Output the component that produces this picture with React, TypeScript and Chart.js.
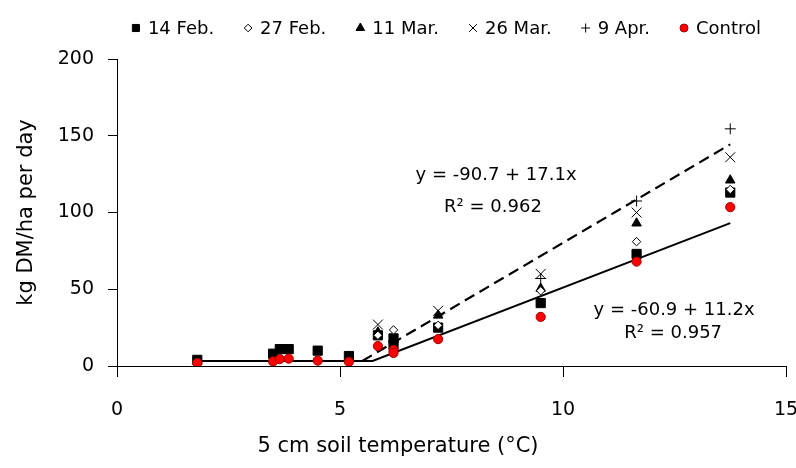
import React, { useEffect, useRef } from "react";
import { Chart, registerables } from "chart.js";

Chart.register(...registerables);

const FONT = "'DejaVu Sans', 'Liberation Sans', sans-serif";

// ---- data ----
const seriesLabels = ["14 Feb.", "27 Feb.", "11 Mar.", "26 Mar.", "9 Apr.", "Control"];

const feb14X = [1.8, 3.5, 3.65, 3.85, 4.5, 5.2, 5.85, 6.2, 6.2, 7.2, 9.5, 11.65, 13.75];
const feb14Y = [4, 8, 11, 11, 10, 6.5, 20, 18, 14, 25, 41, 73, 113];

const feb27X = [5.85, 6.2, 7.2, 9.5, 11.65, 13.75];
const feb27Y = [20, 23.5, 26.5, 49, 81, 115];

const mar11X = [5.85, 7.2, 9.5, 11.65, 13.75];
const mar11Y = [22, 33, 50.5, 93, 121];

const mar26X = [5.85, 7.2, 9.5, 11.65, 13.75];
const mar26Y = [27, 36, 60, 100, 136];

const apr9X = [9.5, 11.65, 13.75];
const apr9Y = [57, 107.5, 154.5];

const controlX = [1.8, 3.5, 3.65, 3.85, 4.5, 5.2, 5.85, 6.2, 6.2, 7.2, 9.5, 11.65, 13.75];
const controlY = [2, 3, 4.5, 4.8, 3.5, 2.7, 13, 10.5, 8.5, 17.5, 32, 68, 103.5];

// trend lines (end points)
const fitAllX = [5.5, 13.75];
const fitAllY = [3.3, 144.4];
const fitControlX = [1.8, 5.73, 13.75];
const fitControlY = [3.3, 3.3, 93.1];

// equation labels
const eqAllText = ["y = -90.7 + 17.1x", "R² = 0.962"];
const eqAllPos = [
  [8.5, 124.4],
  [8.43, 103.6],
];
const eqControlText = ["y = -60.9 + 11.2x", "R² = 0.957"];
const eqControlPos = [
  [12.49, 36.5],
  [12.47, 21.5],
];

const xAxisTitle = "5 cm soil temperature (°C)";
const yAxisTitle = "kg DM/ha per day";

const xMin = 0, xMax = 15, xStep = 5;
const yMin = 0, yMax = 200, yStep = 50;

const seriesX = [feb14X, feb27X, mar11X, mar26X, apr9X, controlX];
const seriesY = [feb14Y, feb27Y, mar11Y, mar26Y, apr9Y, controlY];

// ---- styles ----
const markerStyles = [
  { pointStyle: "rect", radius: 6.5, legendRadius: 5, bg: "#000", border: "#000", bw: 1, order: 3 },
  { pointStyle: "rectRot", radius: 4.2, legendRadius: 3.8, bg: "#fff", border: "#000", bw: 1, order: 1 },
  { pointStyle: "triangle", radius: 5.5, legendRadius: 5, bg: "#000", border: "#000", bw: 1, order: 2 },
  { pointStyle: "crossRot", radius: 7, legendRadius: 5.5, bg: "#000", border: "#000", bw: 1, order: 4 },
  { pointStyle: "cross", radius: 5.5, legendRadius: 4.5, bg: "#000", border: "#000", bw: 1, order: 5 },
  { pointStyle: "circle", radius: 4.6, legendRadius: 4, bg: "#ff0000", border: "#a00000", bw: 1, order: 0 },
];

function drawMarker(ctx: CanvasRenderingContext2D, st: any, x: number, y: number, r: number) {
  ctx.save();
  ctx.fillStyle = st.bg;
  ctx.strokeStyle = st.border;
  ctx.lineWidth = st.bw;
  ctx.beginPath();
  switch (st.pointStyle) {
    case "rect": {
      const s = r * Math.SQRT1_2;
      ctx.rect(x - s, y - s, 2 * s, 2 * s);
      ctx.fill();
      ctx.stroke();
      break;
    }
    case "rectRot": {
      ctx.moveTo(x - r, y);
      ctx.lineTo(x, y - r);
      ctx.lineTo(x + r, y);
      ctx.lineTo(x, y + r);
      ctx.closePath();
      ctx.fill();
      ctx.stroke();
      break;
    }
    case "triangle": {
      for (let i = 0; i < 3; i++) {
        const a = -Math.PI / 2 + (i * 2 * Math.PI) / 3;
        const px = x + Math.cos(a) * r;
        const py = y + Math.sin(a) * r;
        if (i === 0) ctx.moveTo(px, py);
        else ctx.lineTo(px, py);
      }
      ctx.closePath();
      ctx.fill();
      ctx.stroke();
      break;
    }
    case "crossRot": {
      const d = r * Math.SQRT1_2;
      ctx.moveTo(x - d, y - d);
      ctx.lineTo(x + d, y + d);
      ctx.moveTo(x - d, y + d);
      ctx.lineTo(x + d, y - d);
      ctx.stroke();
      break;
    }
    case "cross": {
      ctx.moveTo(x - r, y);
      ctx.lineTo(x + r, y);
      ctx.moveTo(x, y - r);
      ctx.lineTo(x, y + r);
      ctx.stroke();
      break;
    }
    default: {
      ctx.arc(x, y, r, 0, Math.PI * 2);
      ctx.fill();
      ctx.stroke();
    }
  }
  ctx.restore();
}

const decorPlugin = {
  id: "decor",
  afterDraw(chart: any) {
    const ctx: CanvasRenderingContext2D = chart.ctx;
    const { chartArea, scales } = chart;
    ctx.save();
    ctx.fillStyle = "#000";

    // legend
    ctx.font = `18px ${FONT}`;
    ctx.textBaseline = "middle";
    ctx.textAlign = "left";
    const markerBox = 10;
    const toText = 7;
    const itemGap = 29;
    const widths = seriesLabels.map((t) => ctx.measureText(t).width);
    const total =
      widths.reduce((a, w) => a + markerBox + toText + w, 0) + itemGap * (seriesLabels.length - 1);
    const cx = 446;
    let x = cx - total / 2;
    const ly = 28;
    seriesLabels.forEach((t, i) => {
      drawMarker(ctx, markerStyles[i], x + markerBox / 2, ly, markerStyles[i].legendRadius);
      ctx.fillStyle = "#000";
      ctx.fillText(t, x + markerBox + toText, ly + 1);
      x += markerBox + toText + widths[i] + itemGap;
    });

    // axis titles
    ctx.font = `21px ${FONT}`;
    ctx.textAlign = "center";
    ctx.textBaseline = "middle";
    ctx.fillText(xAxisTitle, 398, 447);
    ctx.save();
    ctx.translate(27, (chartArea.top + chartArea.bottom) / 2);
    ctx.rotate(-Math.PI / 2);
    ctx.fillText(yAxisTitle, 0, 0);
    ctx.restore();

    // equations
    ctx.font = `18px ${FONT}`;
    const put = (texts: string[], pos: number[][]) => {
      texts.forEach((t, i) => {
        ctx.fillText(t, scales.x.getPixelForValue(pos[i][0]), scales.y.getPixelForValue(pos[i][1]));
      });
    };
    put(eqAllText, eqAllPos);
    put(eqControlText, eqControlPos);
    ctx.restore();
  },
};

export default function App() {
  const ref = useRef<HTMLCanvasElement>(null);
  useEffect(() => {
    const canvas = ref.current!;
    const pts = (xs: number[], ys: number[]) => xs.map((x, i) => ({ x, y: ys[i] }));

    const scatterSets = seriesLabels.map((label, i) => {
      const st = markerStyles[i];
      return {
        type: "scatter" as const,
        label,
        data: pts(seriesX[i], seriesY[i]),
        pointStyle: st.pointStyle,
        pointRadius: st.radius,
        pointBackgroundColor: st.bg,
        pointBorderColor: st.border,
        pointBorderWidth: st.bw,
        backgroundColor: st.bg,
        borderColor: st.border,
        showLine: false,
        order: st.order,
      };
    });

    const lineSets = [
      {
        type: "line" as const,
        label: "fitAll",
        data: pts(fitAllX, fitAllY),
        borderColor: "#000",
        borderWidth: 2.2,
        borderDash: [11, 6],
        pointRadius: 0,
        showLine: true,
        fill: false,
        order: 10,
      },
      {
        type: "line" as const,
        label: "fitControl",
        data: pts(fitControlX, fitControlY),
        borderColor: "#000",
        borderWidth: 2,
        pointRadius: 0,
        showLine: true,
        fill: false,
        order: 11,
      },
    ];

    const tickFont = { family: FONT, size: 19 };

    const chart = new Chart(canvas, {
      type: "scatter",
      data: { datasets: [...scatterSets, ...lineSets] as any },
      options: {
        animation: false,
        responsive: false,
        maintainAspectRatio: false,
        layout: { padding: { top: 59, right: 10, left: 0, bottom: 0 } },
        plugins: {
          legend: { display: false },
          tooltip: { enabled: false },
        },
        scales: {
          x: {
            type: "linear",
            min: xMin,
            max: xMax,
            ticks: { stepSize: xStep, color: "#000", font: tickFont, padding: 22 },
            grid: { drawOnChartArea: false, drawTicks: true, tickLength: 11, tickColor: "#000" },
            border: { color: "#000", width: 1 },
            afterFit: (s: any) => {
              s.height = 102;
              s.paddingLeft = 0;
              s.paddingRight = 0;
            },
          },
          y: {
            type: "linear",
            min: yMin,
            max: yMax,
            ticks: { stepSize: yStep, color: "#000", font: tickFont, padding: 14 },
            grid: { drawOnChartArea: false, drawTicks: true, tickLength: 9, tickColor: "#000" },
            border: { color: "#000", width: 1 },
            afterFit: (s: any) => {
              s.width = 117;
              s.paddingTop = 0;
              s.paddingBottom = 0;
            },
          },
        },
      } as any,
      plugins: [decorPlugin],
    });
    return () => chart.destroy();
  }, []);

  return (
    <div style={{ position: "fixed", left: 0, top: 0, width: 796, height: 468, background: "#fff" }}>
      <canvas ref={ref} width={796} height={468} style={{ display: "block" }} />
    </div>
  );
}
